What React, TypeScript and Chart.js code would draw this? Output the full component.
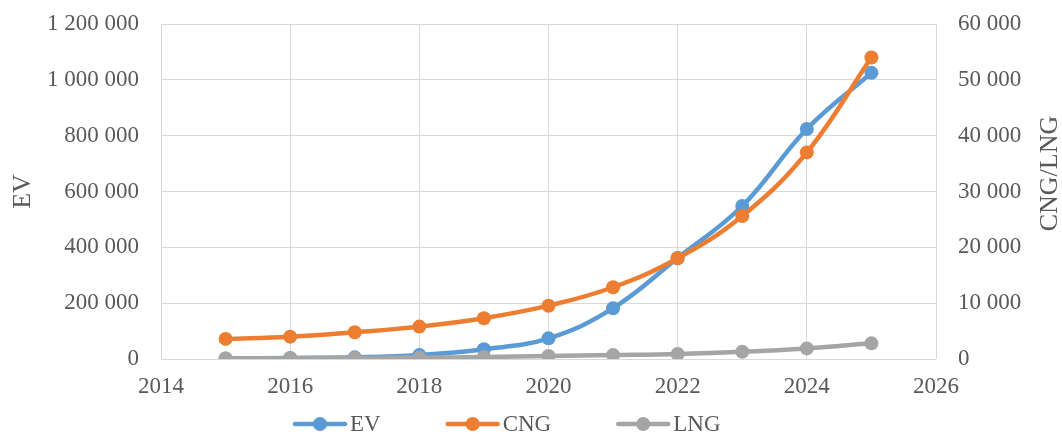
import React, { useEffect, useRef } from "react";
import { Chart, registerables } from "chart.js";

Chart.register(...registerables);

const years = [2015, 2016, 2017, 2018, 2019, 2020, 2021, 2022, 2023, 2024, 2025];
const evValues = [2000, 4000, 6000, 14000, 35000, 74000, 182000, 362000, 548000, 824000, 1025000];
const cngValues = [3600, 4000, 4800, 5800, 7300, 9550, 12850, 18050, 25600, 37000, 54000];
const lngValues = [100, 150, 200, 250, 350, 540, 700, 900, 1300, 1900, 2800];
const seriesNames = ["EV", "CNG", "LNG"];
const seriesColors = ["#5B9BD5", "#ED7D31", "#A5A5A5"];
const leftAxisTitle = "EV";
const rightAxisTitle = "CNG/LNG";

const FONT = "'Liberation Serif', 'Times New Roman', serif";
const TEXT = "#595959";
const GRID = "#D9D9D9";

const fmt = (v: number) => String(Math.round(v)).replace(/\B(?=(\d{3})+(?!\d))/g, " ");

const legendPlugin = {
  id: "customLegend",
  afterDraw(chart: any) {
    const ctx = chart.ctx;
    ctx.save();
    ctx.font = `23px ${FONT}`;
    ctx.textBaseline = "middle";
    ctx.textAlign = "left";
    let x = 293;
    const y = 424;
    chart.data.datasets.forEach((ds: any) => {
      const c = ds.borderColor;
      ctx.strokeStyle = c;
      ctx.lineWidth = 4.5;
      ctx.lineCap = "round";
      ctx.beginPath();
      ctx.moveTo(x + 2, y);
      ctx.lineTo(x + 52, y);
      ctx.stroke();
      ctx.fillStyle = c;
      ctx.beginPath();
      ctx.arc(x + 27, y, 7, 0, Math.PI * 2);
      ctx.fill();
      ctx.fillStyle = TEXT;
      ctx.fillText(ds.label, x + 57, y + 1);
      const w = ctx.measureText(ds.label).width;
      x = x + 57 + w + 65;
    });
    // right axis title, reading bottom-to-top
    const area = chart.chartArea;
    ctx.save();
    ctx.translate(1050, (area.top + area.bottom) / 2 - 18);
    ctx.rotate(-Math.PI / 2);
    ctx.textAlign = "center";
    ctx.textBaseline = "middle";
    ctx.font = `26px ${FONT}`;
    ctx.fillStyle = TEXT;
    ctx.fillText(rightAxisTitle, 0, 0);
    ctx.restore();
    ctx.restore();
  },
};

export default function App() {
  const ref = useRef<HTMLCanvasElement>(null);
  useEffect(() => {
    if (!ref.current) return;
    const mk = (i: number, data: number[], axis: string, order: number) => ({
      label: seriesNames[i],
      data: years.map((y, k) => ({ x: y, y: data[k] })),
      yAxisID: axis,
      borderColor: seriesColors[i],
      backgroundColor: seriesColors[i],
      pointBackgroundColor: seriesColors[i],
      pointBorderColor: seriesColors[i],
      borderWidth: 4.5,
      pointRadius: 7,
      pointBorderWidth: 0,
      tension: 0.4,
      order,
    });
    const fixVPad = (s: any) => { s.paddingTop = 0; s.paddingBottom = 0; };
    const chart = new Chart(ref.current, {
      type: "line",
      data: {
        datasets: [mk(0, evValues, "y", 2), mk(1, cngValues, "y1", 1), mk(2, lngValues, "y1", 0)],
      },
      options: {
        animation: false,
        responsive: true,
        maintainAspectRatio: false,
        layout: { padding: { top: 24, left: 0, right: 0, bottom: 0 } },
        plugins: { legend: { display: false }, tooltip: { enabled: false } },
        scales: {
          x: {
            type: "linear",
            min: 2014,
            max: 2026,
            afterFit: (s: any) => { s.height = 75; },
            ticks: {
              stepSize: 2,
              maxRotation: 0,
              padding: 14,
              color: TEXT,
              font: { family: FONT, size: 23 },
              callback: (v: any) => String(v),
            },
            grid: { color: GRID, lineWidth: 1, drawTicks: false },
            border: { display: false },
          },
          y: {
            type: "linear",
            position: "left",
            min: 0,
            max: 1200000,
            afterFit: (s: any) => { s.width = 161; fixVPad(s); },
            ticks: {
              stepSize: 200000,
              padding: 22,
              color: TEXT,
              font: { family: FONT, size: 23 },
              callback: (v: any) => fmt(v),
            },
            grid: { color: GRID, lineWidth: 1, drawTicks: false },
            border: { display: false },
            title: {
              display: true,
              text: leftAxisTitle,
              color: TEXT,
              font: { family: FONT, size: 26, lineHeight: 1 },
              padding: { top: 10, bottom: 0 },
            },
          },
          y1: {
            type: "linear",
            position: "right",
            min: 0,
            max: 60000,
            afterFit: (s: any) => { s.width = 1062 - 936; fixVPad(s); },
            ticks: {
              stepSize: 10000,
              padding: 22,
              color: TEXT,
              font: { family: FONT, size: 23 },
              callback: (v: any) => fmt(v),
            },
            grid: { drawOnChartArea: false, drawTicks: false },
            border: { display: false },
          },
        },
      },
      plugins: [legendPlugin],
    } as any);
    return () => chart.destroy();
  }, []);
  return (
    <div style={{ position: "fixed", left: 0, top: 0, width: 1062, height: 434, background: "#fff" }}>
      <canvas ref={ref} />
    </div>
  );
}
